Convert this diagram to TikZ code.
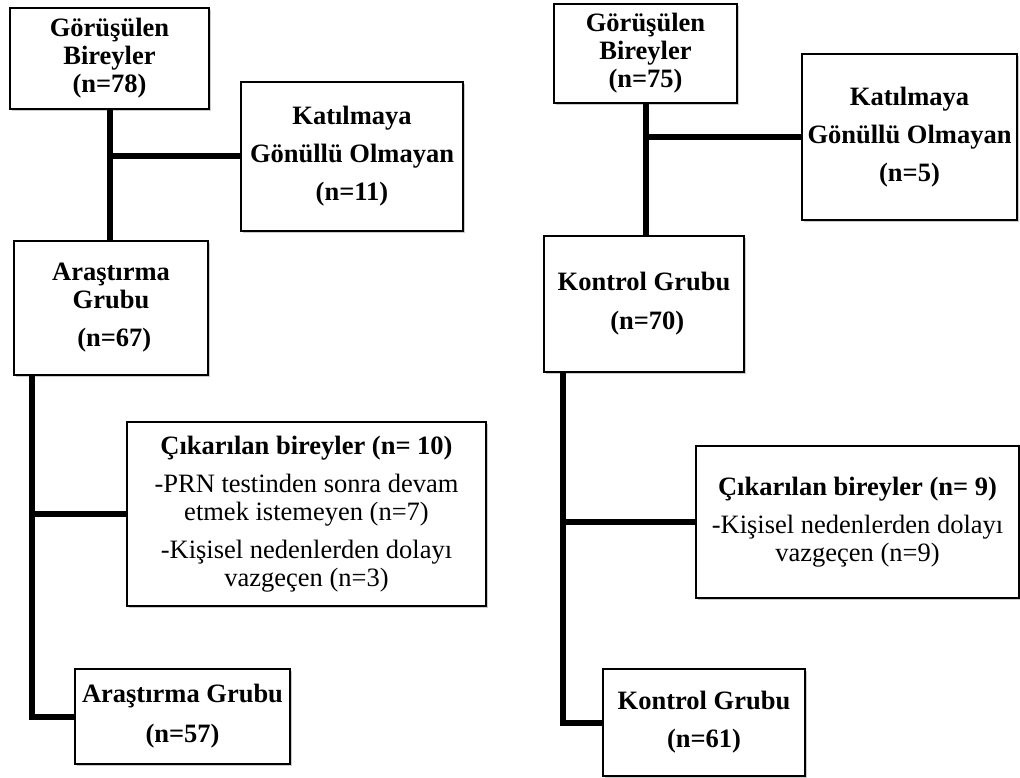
\documentclass[tikz,border=0pt]{standalone}
\usepackage{fontspec}
\setmainfont{Liberation Serif}
\usetikzlibrary{shadows}
\begin{document}
\begin{tikzpicture}[x=1pt,y=-1pt,
  box/.style={draw, line width=1.3pt, fill=white, inner sep=0pt, align=center,
    font=\fontsize{26.5}{28}\selectfont,
    drop shadow={shadow xshift=1.5pt, shadow yshift=-2pt, opacity=0.2, fill=black}},
  conn/.style={line width=6pt}]
\useasboundingbox (0,0) rectangle (1020,778);
% left column
\node[box, minimum width=199pt, minimum height=101pt] (A1) at (109.5,58.5)
  {\bfseries Görüşülen\\ \bfseries Bireyler\\ \bfseries (n=78)};
\node[box, minimum width=222pt, minimum height=149pt] (A2) at (352,156.5)
  {\bfseries Katılmaya\\[10pt] \bfseries Gönüllü Olmayan\\[10pt] \bfseries (n=11)};
\node[box, minimum width=194pt, minimum height=134pt] (A3) at (111,308)
  {\bfseries Araştırma\\ \bfseries Grubu\\[10pt] \bfseries\ (n=67)};
\node[box, minimum width=359pt, minimum height=184pt] (A4) at (306.5,514)
  {\bfseries Çıkarılan bireyler (n= 10)\\[10pt] -PRN testinden sonra devam\\ etmek istemeyen (n=7)\\[10pt] -Kişisel nedenlerden dolayı\\ vazgeçen (n=3)};
\node[box, minimum width=215pt, minimum height=95pt] (A5) at (182.5,716.5)
  {\bfseries Araştırma Grubu\\[12pt] \bfseries (n=57)};
% right column
\node[box, minimum width=183pt, minimum height=99pt] (B1) at (645.5,53.5)
  {\bfseries Görüşülen\\ \bfseries Bireyler\\ \bfseries (n=75)};
\node[box, minimum width=215pt, minimum height=166pt] (B2) at (909.5,137)
  {\bfseries Katılmaya\\[10pt] \bfseries Gönüllü Olmayan\\[10pt] \bfseries (n=5)};
\node[box, minimum width=200pt, minimum height=136pt] (B3) at (644,304)
  {\bfseries Kontrol Grubu\\[11pt] \bfseries\ (n=70)};
\node[box, minimum width=323pt, minimum height=152pt] (B4) at (857.5,522)
  {\bfseries Çıkarılan bireyler (n= 9)\\[10pt] -Kişisel nedenlerden dolayı\\ vazgeçen (n=9)};
\node[box, minimum width=202pt, minimum height=107pt] (B5) at (704,722.5)
  {\bfseries Kontrol Grubu\\[10pt] \bfseries (n=61)};
% connectors left
\draw[conn] (A1.south) -- (A1.south |- A3.north);
\draw[conn] (A1.south |- A2.west) -- (A2.west);
\coordinate (La) at ([xshift=19pt]A3.south west);
\draw[conn] (La) |- (A5.west);
\draw[conn] (La |- A4.west) -- (A4.west);
% connectors right
\draw[conn] (B1.south) -- (B1.south |- B3.north);
\draw[conn] (B1.south |- B2.west) -- (B2.west);
\coordinate (Ra) at ([xshift=20pt]B3.south west);
\draw[conn] (Ra) |- (B5.west);
\draw[conn] (Ra |- B4.west) -- (B4.west);
\end{tikzpicture}
\end{document}
